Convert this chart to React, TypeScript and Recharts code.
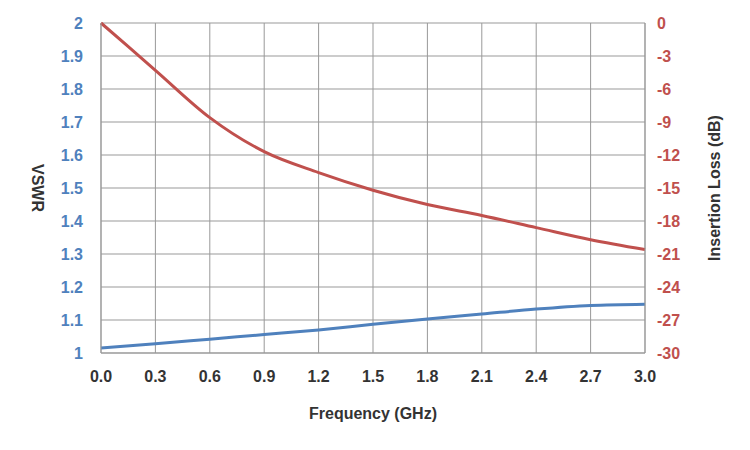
import React from 'react';
import { ComposedChart, Line, XAxis, YAxis, CartesianGrid, Label } from 'recharts';

const freq = [0, 0.3, 0.6, 0.9, 1.2, 1.5, 1.8, 2.1, 2.4, 2.7, 3.0];
const vswr = [1.015, 1.028, 1.042, 1.056, 1.07, 1.087, 1.103, 1.118, 1.133, 1.144, 1.148];
const il = [0, -4.3, -8.6, -11.7, -13.6, -15.2, -16.5, -17.5, -18.6, -19.7, -20.6];
const xTicks = freq;
const leftTicks = [1, 1.1, 1.2, 1.3, 1.4, 1.5, 1.6, 1.7, 1.8, 1.9, 2];
const rightTicks = [-30, -27, -24, -21, -18, -15, -12, -9, -6, -3, 0];

const data = freq.map((f, i) => ({ f, vswr: vswr[i], il: il[i] }));
const font = '"Liberation Sans", Arial, sans-serif';

export default function App() {
  return (
    <div style={{ position: 'absolute', left: 0, top: 0, fontFamily: font }}>
      <ComposedChart width={750} height={450} data={data} margin={{ top: 23, right: 0, left: 0, bottom: 37 }}>
        <CartesianGrid yAxisId="l" stroke="#999" strokeWidth={1} />
        <XAxis dataKey="f" type="number" domain={[0, 3]} ticks={xTicks} tickFormatter={(v) => v.toFixed(1)}
          height={60} tickMargin={12} tick={{ fill: '#333', fontSize: 16, fontWeight: 'bold', fontFamily: font }} tickLine={false} stroke="#999">
          <Label value="Frequency (GHz)" position="insideBottom" offset={-6} style={{ fontSize: 16, fontWeight: 'bold', fill: '#333', fontFamily: font }} />
        </XAxis>
        <YAxis yAxisId="l" domain={[1, 2]} ticks={leftTicks} width={101} tickLine={false} tickMargin={12} stroke="#999"
          tickFormatter={(v) => String(Math.round(v * 10) / 10)}
          tick={{ fill: '#4F81BD', fontSize: 16, fontWeight: 'bold', fontFamily: font }}>
          <Label value="VSWR" angle={90} position="insideLeft" offset={38} style={{ fontSize: 16, fontWeight: 'bold', fill: '#333', fontFamily: font, textAnchor: 'middle' }} />
        </YAxis>
        <YAxis yAxisId="r" orientation="right" domain={[-30, 0]} ticks={rightTicks} width={105} tickLine={false} tickMargin={6} stroke="#999"
          tick={{ fill: '#C0504D', fontSize: 16, fontWeight: 'bold', fontFamily: font }}>
          <Label value="Insertion Loss (dB)" angle={-90} position="insideRight" offset={36} style={{ fontSize: 16, fontWeight: 'bold', fill: '#333', fontFamily: font, textAnchor: 'middle' }} />
        </YAxis>
        <Line yAxisId="l" dataKey="vswr" type="monotone" stroke="#4F81BD" strokeWidth={3} dot={false} isAnimationActive={false} />
        <Line yAxisId="r" dataKey="il" type="monotone" stroke="#C0504D" strokeWidth={3} dot={false} isAnimationActive={false} />
      </ComposedChart>
    </div>
  );
}
